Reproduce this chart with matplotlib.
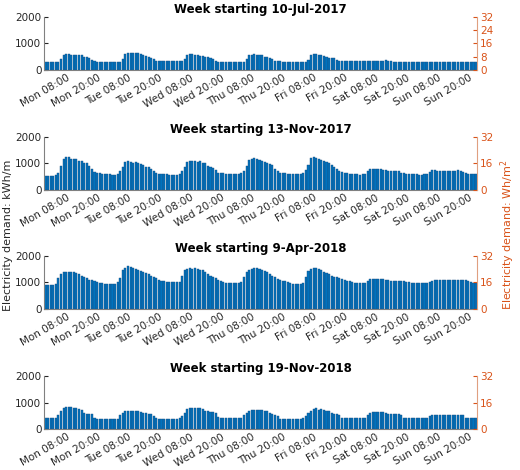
import matplotlib
matplotlib.use("Agg")
import matplotlib.pyplot as plt
import numpy as np

titles = ["Week starting 10-Jul-2017", "Week starting 13-Nov-2017",
          "Week starting 9-Apr-2018", "Week starting 19-Nov-2018"]
tick_labels = ["Mon 08:00", "Mon 20:00", "Tue 08:00", "Tue 20:00", "Wed 08:00", "Wed 20:00",
               "Thu 08:00", "Thu 20:00", "Fri 08:00", "Fri 20:00", "Sat 08:00", "Sat 20:00",
               "Sun 08:00", "Sun 20:00"]
tick_hours = [8, 20, 32, 44, 56, 68, 80, 92, 104, 116, 128, 140, 152, 164]

week1 = ([300]*6 + [400,550,600,600,570,580,580,560,560,490,480,450,360,330,320,320,320,320] +
         [320]*6 + [420,600,640,660,650,640,630,620,560,510,500,440,400,350,330,330,330,330] +
         [330]*6 + [420,580,610,600,580,560,540,540,500,480,460,400,330,320,320,320,320,320] +
         [320]*6 + [400,560,580,590,580,560,550,500,490,470,420,350,330,330,320,320,320,320] +
         [320]*6 + [380,580,600,590,580,570,540,500,460,460,450,360,340,340,340,340,340,340] +
         [340,340,340,340,340,340,330,330,340,350,350,350,360,340,330,320,320,320,320,320,320,320,320,320] +
         [320]*24)
week2 = ([520,520,520,520,550,650,900,1150,1250,1250,1180,1180,1150,1100,1100,1000,1000,900,780,680,640,620,610,600] +
         [580,580,570,570,580,700,880,1050,1080,1060,1030,1050,1000,960,920,880,860,800,700,640,600,600,590,580] +
         [560,550,550,560,600,700,850,1050,1080,1090,1080,1060,1080,1000,1000,900,880,840,740,640,620,620,600,600] +
         [580,580,580,580,620,700,900,1130,1160,1200,1180,1120,1080,1050,1000,980,950,800,720,640,620,620,600,600] +
         [580,580,580,580,620,750,950,1200,1220,1200,1160,1120,1080,1040,1000,950,880,800,720,660,640,620,600,600] +
         [580,580,570,580,600,700,780,800,800,800,780,760,740,720,720,700,720,700,650,620,600,600,600,600] +
         [580,570,570,580,600,680,760,760,720,720,720,720,720,720,720,720,740,720,680,620,600,600,600,580])
week3 = ([900,900,900,900,950,1150,1320,1380,1400,1400,1400,1400,1330,1320,1250,1200,1150,1100,1080,1050,1000,980,960,950] +
         [950,950,950,950,1000,1150,1450,1550,1600,1560,1520,1480,1450,1420,1380,1360,1300,1220,1180,1150,1100,1050,1030,1020] +
         [1000,1000,1000,1000,1000,1250,1450,1500,1520,1500,1530,1500,1460,1450,1380,1300,1250,1200,1150,1100,1050,1000,980,970] +
         [960,960,960,960,1000,1200,1400,1450,1500,1550,1530,1500,1460,1420,1380,1300,1250,1180,1120,1080,1060,1040,1000,980] +
         [950,950,950,950,980,1200,1420,1500,1550,1520,1500,1450,1400,1340,1300,1250,1200,1180,1150,1120,1080,1060,1040,1000] +
         [970,970,970,970,980,1050,1120,1130,1130,1120,1120,1120,1100,1080,1060,1060,1060,1060,1060,1060,1020,1000,980,960] +
         [960,960,960,960,960,1000,1060,1080,1080,1080,1080,1080,1080,1070,1070,1070,1070,1080,1080,1070,1060,1020,980,960])
week4 = ([400,400,400,400,420,550,700,780,820,820,820,800,800,760,720,600,580,560,560,400,380,370,370,370] +
         [370,370,370,370,390,520,620,700,700,700,700,700,700,660,620,600,580,560,500,400,380,380,380,380] +
         [380,380,380,380,400,500,620,750,790,800,790,780,780,740,700,680,660,640,600,440,420,420,410,410] +
         [410,410,410,410,420,520,620,680,720,730,720,720,720,700,680,600,580,540,500,380,370,370,370,370] +
         [370,370,370,370,400,480,600,700,760,780,720,740,720,700,680,600,560,560,520,420,400,400,400,400] +
         [400,400,400,400,420,520,620,650,650,650,650,640,600,580,560,560,560,560,520,420,400,400,400,400] +
         [400,400,400,400,420,500,540,540,540,540,540,540,540,540,540,540,540,540,540,400,400,400,400,400])
weeks = [week1, week2, week3, week4]

blue = "#0072BD"
orange = "#D95319"
fig = plt.figure(figsize=(5.2, 4.7), dpi=100)
bottoms = [0.851, 0.596, 0.343, 0.087]
for b, title, w in zip(bottoms, titles, weeks):
    ax = fig.add_axes([0.085, b, 0.833, 0.113])
    hours = np.arange(len(w))
    ax.bar(hours, w, width=0.8, color=blue, edgecolor="#1a4f80", linewidth=0.3)
    ax.set_xlim(-0.5, 167.5)
    ax.set_ylim(0, 2000)
    ax.set_yticks([0, 1000, 2000])
    ax.set_xticks(tick_hours)
    ax.set_xticklabels(tick_labels, rotation=30, ha="right", fontsize=7.5, color="#262626",
                       rotation_mode="anchor")
    ax.tick_params(axis="y", labelsize=7.5, colors="#262626", direction="in", length=3, pad=2)
    ax.tick_params(axis="x", length=0, pad=2)
    ax.set_title(title, fontsize=8.5, fontweight="bold", pad=3)
    ax.spines["top"].set_visible(False)
    ax.spines["left"].set_color("#808080")
    ax.spines["bottom"].set_color("#808080")
    ax.spines["right"].set_visible(False)
    ax2 = ax.twinx()
    ax2.set_ylim(0, 32)
    ax2.set_yticks([0, 8, 16, 24, 32] if b == bottoms[0] else [0, 16, 32])
    ax2.tick_params(axis="y", labelsize=7.5, colors=orange, direction="in", length=3, pad=2)
    for s in ["top", "left", "bottom"]:
        ax2.spines[s].set_visible(False)
    ax2.spines["right"].set_color("#e0a080")

fig.text(0.005, 0.5, "Electricity demand: kWh/m", rotation=90, va="center", ha="left",
         fontsize=8, color="#262626")
fig.text(0.995, 0.5, "Electricity demand: Wh/m$^2$", rotation=90, va="center", ha="right",
         fontsize=8, color=orange)
fig.savefig("out.png", dpi=100)
